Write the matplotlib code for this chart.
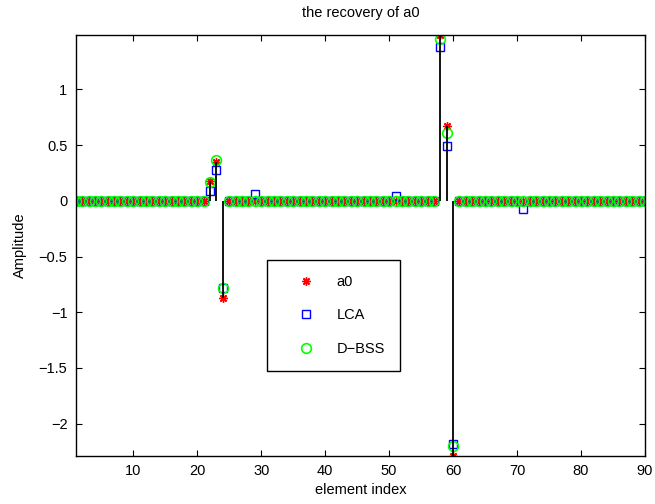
import numpy as np
import matplotlib
matplotlib.use('Agg')
import matplotlib.pyplot as plt

plt.rcParams['font.family'] = ['Liberation Sans', 'DejaVu Sans']

# ---- dados (nao-nulos, indices 1..90) ----
n_elem = 90
a0_idx = [22, 23, 24, 58, 59, 60]
a0_val = [0.18, 0.35, -0.87, 1.49, 0.67, -2.29]

lca_idx = [22, 23, 24, 29, 51, 58, 59, 60, 71]
lca_val = [0.09, 0.28, -0.78, 0.06, 0.04, 1.38, 0.49, -2.18, -0.07]

dbss_idx = [22, 23, 24, 58, 59, 60]
dbss_val = [0.17, 0.37, -0.78, 1.45, 0.61, -2.20]

labels = ['a0', 'LCA', 'D\u2212BSS']


def montar(idx, val):
    v = np.zeros(n_elem)
    for i, y in zip(idx, val):
        v[i - 1] = y
    return v


x = np.arange(1, n_elem + 1)
a0 = montar(a0_idx, a0_val)
lca = montar(lca_idx, lca_val)
dbss = montar(dbss_idx, dbss_val)

fig = plt.figure(figsize=(6.55, 5.04), dpi=100)
ax = fig.add_axes([0.1156, 0.0952, 0.8691, 0.8358])

h_a0, = ax.plot(x, a0, linestyle='none', marker=(8, 2, 0), ms=6,
                mfc='none', mec=(1, 0, 0), mew=1.0)
h_lca, = ax.plot(x, lca, linestyle='none', marker='s', ms=6,
                 mfc='none', mec=(0, 0, 1), mew=1.0)
h_dbss, = ax.plot(x, dbss, linestyle='none', marker='o', ms=7,
                  mfc='none', mec=(0, 1, 0), mew=1.2)
ax.vlines(x, 0, a0, colors='k', lw=1.3, zorder=3)

ax.set_xlim(1, 90)
ax.set_ylim(a0.min(), a0.max())
ax.set_xticks(np.arange(10, 91, 10))
ax.set_yticks([-2, -1.5, -1, -0.5, 0, 0.5, 1])
ax.set_yticklabels(['\u22122', '\u22121.5', '\u22121', '\u22120.5', '0', '0.5', '1'])
ax.tick_params(direction='in', length=4, width=0.8, top=True, right=True,
               labelsize=10.5, pad=6)
for s in ax.spines.values():
    s.set_linewidth(1.0)

ax.set_title('the recovery of a0', fontsize=10.5, pad=13)
ax.set_xlabel('element index', fontsize=10.5, labelpad=3)
ax.set_ylabel('Amplitude', fontsize=10.5, labelpad=8)

leg = ax.legend([h_a0, h_lca, h_dbss], labels, loc='upper left',
                bbox_to_anchor=(0.3366, 0.465), numpoints=1, fontsize=10.5,
                handlelength=3.3, handletextpad=0.45, labelspacing=1.35,
                borderpad=1.0, borderaxespad=0, fancybox=False, framealpha=1)
leg.get_frame().set_edgecolor('k')
leg.get_frame().set_linewidth(1.0)

fig.savefig('out.png', dpi=100)
